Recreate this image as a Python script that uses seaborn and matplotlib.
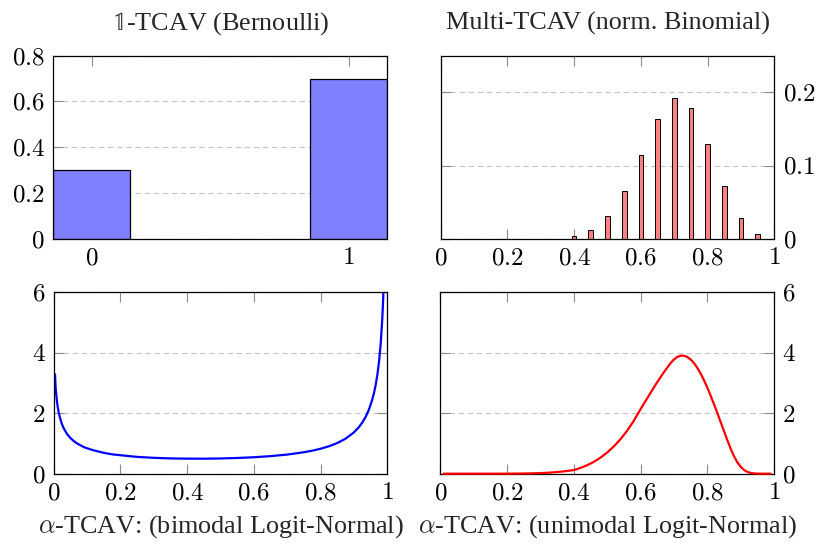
import matplotlib
matplotlib.use("Agg")
import matplotlib.pyplot as plt
import seaborn as sns

# ---------------- data ----------------
bern_outcomes = [0, 1]
bern_probs = [0.3, 0.7]

binom_x = [0.40, 0.45, 0.50, 0.55, 0.60, 0.65, 0.70, 0.75, 0.80, 0.85, 0.90, 0.95]
binom_p = [0.004, 0.012, 0.031, 0.065, 0.115, 0.164, 0.192, 0.179, 0.130, 0.072, 0.028, 0.007]

bimodal_x = [0.004, 0.005, 0.006, 0.008, 0.010, 0.012, 0.015, 0.020, 0.025, 0.030,
             0.040, 0.050, 0.060, 0.070, 0.080, 0.090, 0.100, 0.120, 0.150, 0.175,
             0.200, 0.250, 0.300, 0.350, 0.400, 0.450, 0.500, 0.550, 0.600, 0.650,
             0.700, 0.750, 0.775, 0.800, 0.825, 0.850, 0.875, 0.900, 0.915, 0.925,
             0.935, 0.945, 0.955, 0.960, 0.965, 0.970, 0.975, 0.980, 0.985, 0.9875,
             0.990, 0.9925, 0.995]
bimodal_y = [3.28, 3.02, 2.82, 2.57, 2.37, 2.21, 2.02, 1.80, 1.63, 1.50,
             1.31, 1.18, 1.08, 1.00, 0.94, 0.88, 0.84, 0.77, 0.69, 0.64,
             0.61, 0.555, 0.524, 0.505, 0.497, 0.496, 0.503, 0.519, 0.543, 0.580,
             0.632, 0.709, 0.760, 0.824, 0.906, 1.012, 1.157, 1.365, 1.539, 1.688,
             1.875, 2.118, 2.447, 2.66, 2.92, 3.25, 3.68, 4.26, 5.12, 5.73,
             6.55, 7.72, 9.60]

unimodal_x = [0.01, 0.10, 0.15, 0.20, 0.25, 0.30, 0.32, 0.34, 0.36, 0.38,
              0.40, 0.42, 0.44, 0.46, 0.48, 0.50, 0.52, 0.54, 0.56, 0.58,
              0.60, 0.61, 0.62, 0.63, 0.64, 0.65, 0.66, 0.67, 0.68, 0.69,
              0.70, 0.71, 0.72, 0.725, 0.73, 0.74, 0.75, 0.76, 0.77, 0.78,
              0.79, 0.80, 0.81, 0.82, 0.83, 0.84, 0.85, 0.86, 0.87, 0.88,
              0.89, 0.90, 0.91, 0.92, 0.93, 0.94, 0.95, 0.96, 0.99]
unimodal_y = [0.0, 0.0, 0.0, 0.001, 0.006, 0.02, 0.03, 0.045, 0.065, 0.09,
              0.12, 0.19, 0.28, 0.39, 0.53, 0.70, 0.90, 1.14, 1.42, 1.75,
              2.13, 2.31, 2.49, 2.67, 2.85, 3.02, 3.19, 3.35, 3.50, 3.65,
              3.77, 3.855, 3.895, 3.90, 3.895, 3.855, 3.775, 3.655, 3.50, 3.31,
              3.09, 2.85, 2.58, 2.30, 2.01, 1.71, 1.41, 1.11, 0.83, 0.58,
              0.38, 0.23, 0.125, 0.06, 0.025, 0.009, 0.003, 0.001, 0.0]

titles_top = [r'$\mathbb{1}$-TCAV (Bernoulli)', 'Multi-TCAV (norm. Binomial)']
labels_bottom = [r'$\alpha$-TCAV: (bimodal Logit-Normal)',
                 r'$\alpha$-TCAV: (unimodal Logit-Normal)']

tl_xticks = [0, 1]
tl_yticks = [0, 0.2, 0.4, 0.6, 0.8]
tr_yticks = [0, 0.1, 0.2]
unit_xticks = [0, 0.2, 0.4, 0.6, 0.8, 1]
pdf_yticks = [0, 2, 4, 6]

# ---------------- style ----------------
sns.set_style("white")
plt.rcParams['font.family'] = ['Liberation Serif', 'DejaVu Serif']
plt.rcParams['mathtext.fontset'] = 'cm'

W, H = 818, 546
fig = plt.figure(figsize=(W / 100, H / 100), dpi=100)
fig.patch.set_facecolor('white')


def px_axes(left, right, top, bottom):
    return fig.add_axes([left / W, 1 - bottom / H, (right - left) / W, (bottom - top) / H])


ax_tl = px_axes(53.3, 387.3, 55.7, 238.7)
ax_tr = px_axes(440.7, 774.3, 55.7, 238.7)
ax_bl = px_axes(53.7, 387.3, 292.0, 473.7)
ax_br = px_axes(440.3, 774.0, 292.0, 473.7)

TICKFS = 18


def fmt(v):
    return '$%g$' % v


def style(ax, xticks, yticks, right_labels=False):
    ax.set_xticks(xticks, [fmt(t) for t in xticks])
    ax.set_yticks(yticks, [fmt(t) for t in yticks])
    ax.tick_params(axis='both', which='major', direction='in', length=7.5, width=0.8,
                   color='#8c8c8c', labelsize=TICKFS, labelcolor='black',
                   top=True, right=True, bottom=True, left=True, pad=6)
    if right_labels:
        ax.tick_params(axis='y', labelleft=False, labelright=True)
    for s in ax.spines.values():
        s.set_color('black')
        s.set_linewidth(0.9)
    ax.yaxis.grid(True, color='#c4c4c4', linestyle=(0, (4.8, 3.4)), linewidth=0.8)
    ax.xaxis.grid(False)
    ax.set_axisbelow(True)
    ax.set_xlabel('')
    ax.set_ylabel('')


# top-left: Bernoulli
sns.barplot(x=bern_outcomes, y=bern_probs, native_scale=True, orient='x', width=0.3,
            color='#8080ff', edgecolor='black', linewidth=0.9, saturation=1,
            errorbar=None, ax=ax_tl)
ax_tl.set_xlim(-0.15, 1.15)
ax_tl.set_ylim(0, 0.8)
style(ax_tl, tl_xticks, tl_yticks)

# top-right: normalised binomial
sns.barplot(x=binom_x, y=binom_p, native_scale=True, orient='x', width=0.28,
            color='#ff8080', edgecolor='black', linewidth=0.7, saturation=1,
            errorbar=None, ax=ax_tr)
ax_tr.set_xlim(0, 1)
ax_tr.set_ylim(0, 0.25)
style(ax_tr, unit_xticks, tr_yticks, right_labels=True)

# bottom-left: bimodal logit-normal
sns.lineplot(x=bimodal_x, y=bimodal_y, color='#0000ff', linewidth=1.6,
             estimator=None, sort=False, ax=ax_bl)
for ln in ax_bl.lines:
    ln.set_solid_joinstyle('round')
ax_bl.set_xlim(0, 1)
ax_bl.set_ylim(0, 6)
style(ax_bl, unit_xticks, pdf_yticks)

# bottom-right: unimodal logit-normal
sns.lineplot(x=unimodal_x, y=unimodal_y, color='#ff0000', linewidth=1.6,
             estimator=None, sort=False, ax=ax_br)
for ln in ax_br.lines:
    ln.set_clip_on(False)
    ln.set_zorder(3)
    ln.set_solid_joinstyle('round')
ax_br.set_xlim(0, 1)
ax_br.set_ylim(0, 6)
style(ax_br, unit_xticks, pdf_yticks, right_labels=True)

TITLEFS = 18.8
ax_tl.set_title(titles_top[0], fontsize=TITLEFS, pad=19, math_fontfamily='stix')
ax_tr.set_title(titles_top[1], fontsize=TITLEFS, pad=19)

fig.text(220.5 / W, 1 - 533 / H, labels_bottom[0], ha='center', va='baseline',
         fontsize=TITLEFS)
fig.text(607.0 / W, 1 - 533 / H, labels_bottom[1], ha='center', va='baseline',
         fontsize=TITLEFS)

fig.savefig('out.png', dpi=100, facecolor='white')
